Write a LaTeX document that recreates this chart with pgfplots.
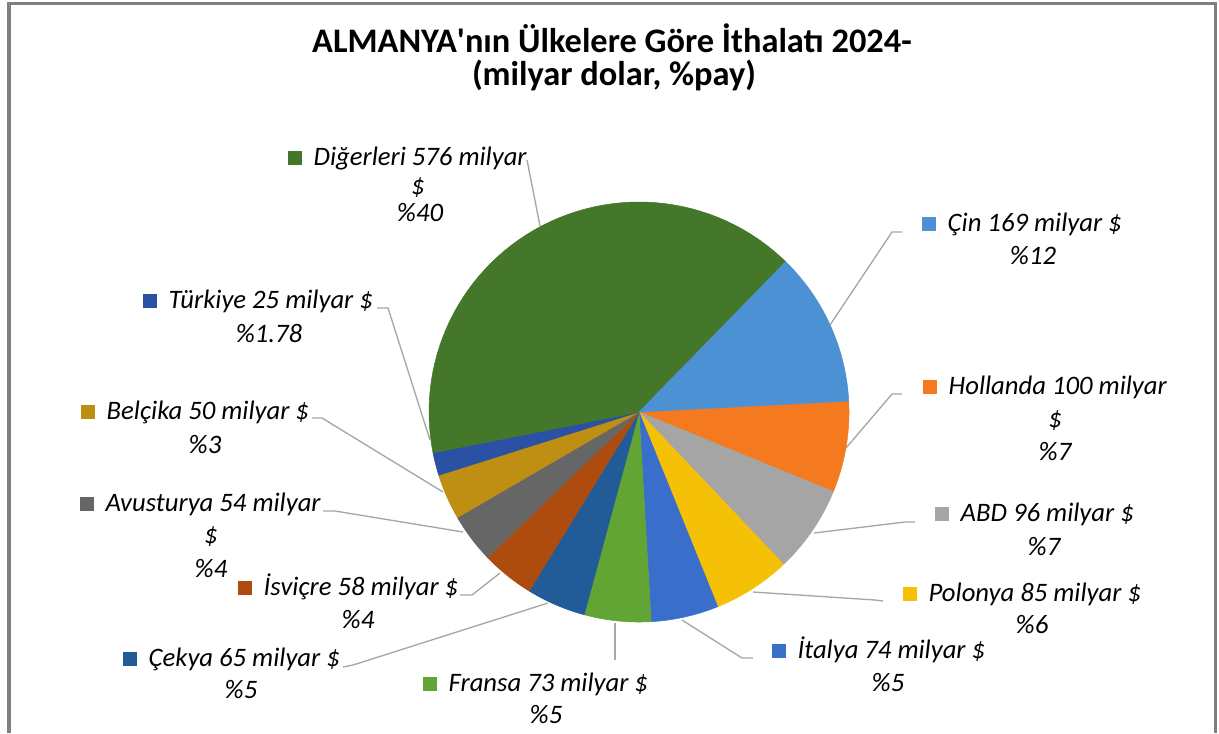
\documentclass[border=0pt]{standalone}
\usepackage{pgfplots}
\pgfplotsset{compat=1.18}
\usepackage{fontspec}
\setmainfont{Carlito}
\definecolor{cDig}{HTML}{44772A}
\definecolor{cCin}{HTML}{4B91D4}
\definecolor{cHol}{HTML}{F57A1F}
\definecolor{cABD}{HTML}{A5A5A5}
\definecolor{cPol}{HTML}{F5C106}
\definecolor{cIta}{HTML}{3A6ECB}
\definecolor{cFra}{HTML}{63A534}
\definecolor{cCek}{HTML}{215C98}
\definecolor{cIsv}{HTML}{AE4C0F}
\definecolor{cAvu}{HTML}{666666}
\definecolor{cBel}{HTML}{BE8F12}
\definecolor{cTur}{HTML}{2A51A3}
\definecolor{frame}{HTML}{808080}
\definecolor{leader}{HTML}{A6A6A6}
\newcommand\cum{0}
\newcommand\slice[2]{%
  \pgfmathsetmacro\aA{3-\cum/1425*360}%
  \pgfmathsetmacro\cumB{\cum+#1}%
  \pgfmathsetmacro\aB{3-\cumB/1425*360}%
  \xdef\cum{\cumB}%
  \edef\tmp{\noexpand\addplot[fill=#2, draw=#2, line width=0.4pt, domain=\aB:\aA, samples=60] ({639+210*cos(x)},{412-210*sin(x)}) -- (axis cs:639,412) -- cycle;}%
  \tmp}
\newcommand\mk[1]{\textcolor{#1}{\rule{10.5pt}{10.5pt}}\hspace{9pt}}
\newcommand\lf{\fontsize{20pt}{24pt}\selectfont\itshape}
\begin{document}
\begin{tikzpicture}
\begin{axis}[
  width=914.25pt, height=549.75pt, scale only axis,
  xmin=0, xmax=1219, ymin=0, ymax=733, y dir=reverse,
  hide axis, clip=false,
  every node/.style={inner sep=0pt, outer sep=0pt},
  leader/.style={color=leader, line width=1pt, mark=none},
]
% slices, clockwise from 3 deg
\slice{100}{cHol}
\slice{96}{cABD}
\slice{85}{cPol}
\slice{74}{cIta}
\slice{73}{cFra}
\slice{65}{cCek}
\slice{58}{cIsv}
\slice{54}{cAvu}
\slice{50}{cBel}
\slice{25}{cTur}
\slice{576}{cDig}
\slice{169}{cCin}
% leader lines
\addplot[leader] coordinates {(527,160) (540,226)};
\addplot[leader] coordinates {(902,232) (892,232) (830,325)};
\addplot[leader] coordinates {(902,394) (892,394) (846,448)};
\addplot[leader] coordinates {(915,522) (905,522) (814,533)};
\addplot[leader] coordinates {(883,601) (875,600) (753,592)};
\addplot[leader] coordinates {(753,658) (742,658) (682,620)};
\addplot[leader] coordinates {(615,660) (615,623)};
\addplot[leader] coordinates {(343,667) (353,665) (548,603)};
\addplot[leader] coordinates {(460,595) (472,595) (500,573)};
\addplot[leader] coordinates {(323,511) (335,511) (463,532)};
\addplot[leader] coordinates {(312,418) (322,418) (443,492)};
\addplot[leader] coordinates {(377,308) (388,308) (430,440)};
% frame
\draw[frame, line width=2.6pt] (axis cs:9,733) -- (axis cs:9,3.7) -- (axis cs:1215.7,3.7) -- (axis cs:1215.7,733);
% title
\node[anchor=base, font=\fontsize{25.8pt}{30pt}\selectfont\bfseries] at (axis cs:612,52) {ALMANYA\textquotesingle nın Ülkelere Göre İthalatı 2024-};
\node[anchor=base, font=\fontsize{25.8pt}{30pt}\selectfont\bfseries] at (axis cs:614,85) {(milyar dolar, \%pay)};
% labels
\node[anchor=base west, font=\lf] at (axis cs:283,165) {\mk{cDig}Diğerleri 576 milyar};
\node[anchor=base, font=\lf] at (axis cs:418,194) {\$};
\node[anchor=base, font=\lf] at (axis cs:420,221) {\%40};
\node[anchor=base west, font=\lf] at (axis cs:917,231) {\mk{cCin}Çin 169 milyar \$};
\node[anchor=base, font=\lf] at (axis cs:1033,264) {\%12};
\node[anchor=base west, font=\lf] at (axis cs:918,394) {\mk{cHol}Hollanda 100 milyar};
\node[anchor=base, font=\lf] at (axis cs:1055,427) {\$};
\node[anchor=base, font=\lf] at (axis cs:1055,460) {\%7};
\node[anchor=base west, font=\lf] at (axis cs:930,521) {\mk{cABD}ABD 96 milyar \$};
\node[anchor=base, font=\lf] at (axis cs:1044,555) {\%7};
\node[anchor=base west, font=\lf] at (axis cs:898,601) {\mk{cPol}Polonya 85 milyar \$};
\node[anchor=base, font=\lf] at (axis cs:1032,633) {\%6};
\node[anchor=base west, font=\lf] at (axis cs:767,658) {\mk{cIta}İtalya 74 milyar \$};
\node[anchor=base, font=\lf] at (axis cs:888,691) {\%5};
\node[anchor=base west, font=\lf] at (axis cs:418,691) {\mk{cFra}Fransa 73 milyar \$};
\node[anchor=base, font=\lf] at (axis cs:546,723) {\%5};
\node[anchor=base west, font=\lf] at (axis cs:118,666) {\mk{cCek}Çekya 65 milyar \$};
\node[anchor=base, font=\lf] at (axis cs:241,698) {\%5};
\node[anchor=base west, font=\lf] at (axis cs:233,595) {\mk{cIsv}İsviçre 58 milyar \$};
\node[anchor=base, font=\lf] at (axis cs:358,628) {\%4};
\node[anchor=base west, font=\lf] at (axis cs:75,511) {\mk{cAvu}Avusturya 54 milyar};
\node[anchor=base, font=\lf] at (axis cs:211,543) {\$};
\node[anchor=base, font=\lf] at (axis cs:211,577) {\%4};
\node[anchor=base west, font=\lf] at (axis cs:76,419) {\mk{cBel}Belçika 50 milyar \$};
\node[anchor=base, font=\lf] at (axis cs:205,453) {\%3};
\node[anchor=base west, font=\lf] at (axis cs:138,308) {\mk{cTur}Türkiye 25 milyar \$};
\node[anchor=base, font=\lf] at (axis cs:269,342) {\%1.78};
\end{axis}
\pgfresetboundingbox
\path (current axis.south west) rectangle (current axis.north east);
\end{tikzpicture}
\end{document}
